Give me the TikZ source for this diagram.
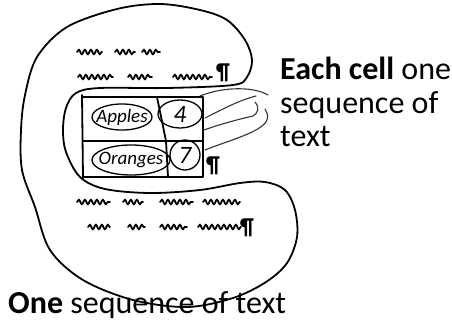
\documentclass[tikz,border=0pt]{standalone}
\usepackage{fontspec}
\setmainfont{Carlito}
\usetikzlibrary{decorations.pathmorphing}
\tikzset{
    sketch/.style={line width=1.8pt, line cap=round, line join=round},
    ring/.style={line width=1.3pt},
    pointer/.style={line width=1.1pt, black!80, line cap=round},
    scribble/.style={line width=1.8pt, line cap=round, decorate,
        decoration={snake, amplitude=2.2pt, segment length=6pt}},
    hand/.style={font=\fontsize{19}{19}\selectfont\itshape, inner sep=0pt},
    digit/.style={font=\fontsize{25}{25}\selectfont\itshape, inner sep=0pt},
    para/.style={font=\fontsize{23}{23}\selectfont\bfseries, inner sep=0pt},
    sidetext/.style={font=\fontsize{32}{33.5}\selectfont, inner sep=0pt, anchor=base west, align=left},
}
\begin{document}
\begin{tikzpicture}[x=1pt, y=-1pt]
            \useasboundingbox (0, 0) rectangle (452, 323);
            % texts
            \node[sidetext] (cells) at (280, 147) {\textbf{Each cell} one\\sequence of\\text};
            \node[sidetext] (whole) at (8, 313) {\textbf{One} sequence of text};
            % the one sequence
            \draw[sketch] plot[smooth cycle, tension=0.55] coordinates {
                (233, 85) (167, 88) (100, 88) (76, 93) (66, 108) (63, 130) (66, 152)
                (80, 177) (105, 189) (150, 193) (200, 190) (240, 183) (265, 182)
                (285, 190) (295, 210) (297, 237) (287, 263) (266, 282) (233, 298)
                (187, 307) (133, 300) (83, 280) (50, 250) (35, 207) (22, 170)
                (21, 130) (25, 95) (37, 57) (67, 27) (117, 9) (160, 4) (200, 10)
                (227, 20) (245, 40) (252, 60) (247, 77)};
            % table
            \draw[sketch] (82, 95) -- (83, 178);
            \draw[sketch] (82, 97) -- (203, 97) -- (203, 177) -- (83, 177);
            \draw[sketch] (83, 141) -- (203, 141);
            \draw[sketch] (157, 97) -- (166, 141) -- (168, 177);
            \node[hand] (apples) at (122, 117) {Apples};
            \node[digit] (four) at (180, 114) {4};
            \node[hand] (oranges) at (131, 160) {Oranges};
            \node[digit] (seven) at (185, 155) {7};
            \draw[ring] (apples) ellipse [x radius=30pt, y radius=13pt];
            \draw[ring] (four) ellipse [x radius=22pt, y radius=14pt];
            \draw[ring] (oranges) ellipse [x radius=39pt, y radius=15pt];
            \draw[ring] (seven) circle [radius=15pt];
            % pointers to the cells
            \draw[pointer] (200, 96) .. controls (225, 86) and (255, 87) .. (268, 95);
            \draw[pointer] (205, 118) .. controls (225, 108) and (240, 100) .. (256, 96);
            \draw[pointer] (255, 102) .. controls (260, 108) and (258, 113) .. (253, 116)
                .. controls (235, 120) and (215, 126) .. (204, 130);
            \draw[pointer] (205, 150) .. controls (230, 140) and (262, 132) .. (267, 120)
                .. controls (268, 115) .. (265, 109);
            % scribbled lines of text
            \foreach \a/\b/\y in {77/102/52, 115/135/52, 142/160/52,
                                  78/113/77, 128/152/77, 173/212/77,
                                  77/110/202, 123/143/202, 160/193/202, 203/240/202,
                                  88/110/227, 128/145/227, 160/187/227, 198/241/227}
                \draw[scribble] (\a, \y) -- (\b, \y);
            \node[para] (parA) at (223, 73) {\P};
            \node[para] (parB) at (213, 166) {\P};
            \node[para] (parC) at (247, 228) {\P};
\end{tikzpicture}
\end{document}
